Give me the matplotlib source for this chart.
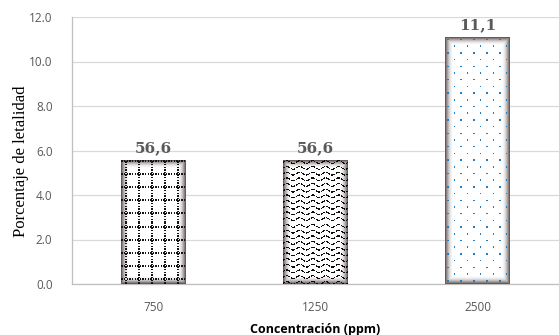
import numpy as np
import matplotlib.pyplot as plt

concentraciones = ['750', '1250', '2500']
letalidad = [5.55, 5.55, 11.1]
etiquetas = ['56,6', '56,6', '11,1']
patrones = ['grid', 'wave', 'dots']

BAR_W = 0.4


def bar_texture(w, h, kind):
    yy, xx = np.mgrid[0:h, 0:w].astype(float)
    img = np.ones((h, w, 3))
    # dark inner glow along the edges
    d = np.minimum(np.minimum(xx, w - 1 - xx), np.minimum(yy, h - 1 - yy))
    glow = np.clip(1 - d / 8.0, 0, 1) ** 2.0
    edge = np.array([0.40, 0.35, 0.35])
    img = img * (1 - glow[..., None]) + edge * glow[..., None]

    if kind == 'grid':
        hl = (np.mod(yy - 4, 13) < 1.2) & (np.mod(xx, 2.6) < 1.4)
        vl = (np.mod(xx - 4, 13) < 1.2) & (np.mod(yy, 2.6) < 1.4)
        m = hl | vl
        img[m] = [0.08, 0.08, 0.08]
    elif kind == 'wave':
        yc = yy - 1.4 * np.sin(2 * np.pi * xx / 13.0)
        m = (np.mod(yc, 5.7) < 1.3) & (np.mod(xx, 2.5) < 1.7)
        img[m] = [0.05, 0.05, 0.05]
    else:
        row = np.floor((yy - 2) / 6.7)
        off = np.where(np.mod(row, 2) == 0, 0.0, 6.5)
        m = (np.mod(yy - 2, 6.7) < 1.5) & (np.mod(xx - 2 - off, 13) < 1.5)
        img[m] = [0.12, 0.50, 0.78]
    return img


fig = plt.figure(figsize=(5.59, 3.35), dpi=100)
ax = fig.add_axes([72 / 559, 51 / 335, 487 / 559, 267 / 335])

ax.set_xlim(-0.5, 2.5)
ax.set_ylim(0, 12)
ax.set_yticks(np.arange(0, 12.1, 2))
ax.set_yticklabels(['%.1f' % v for v in np.arange(0, 12.1, 2)])
ax.set_xticks(range(len(concentraciones)))
ax.set_xticklabels(concentraciones)
ax.grid(axis='y', color='#d9d9d9', linewidth=0.9)
ax.set_axisbelow(True)
for s in ['top', 'right']:
    ax.spines[s].set_visible(False)
for s in ['left', 'bottom']:
    ax.spines[s].set_color('#bfbfbf')
    ax.spines[s].set_linewidth(0.9)
ax.tick_params(length=0, labelsize=8.5, labelcolor='#595959')
for lab in ax.get_xticklabels() + ax.get_yticklabels():
    lab.set_family('Open Sans')
ax.tick_params(axis='x', pad=12)
ax.tick_params(axis='y', pad=14)

# pixels per data unit, to size the bar textures
p0 = ax.transData.transform((0, 0))
p1 = ax.transData.transform((BAR_W, 1))
px_w = int(round(p1[0] - p0[0]))
px_unit = p1[1] - p0[1]

for i, (v, lab, kind) in enumerate(zip(letalidad, etiquetas, patrones)):
    h = int(round(v * px_unit))
    tex = bar_texture(px_w, h, kind)
    ax.imshow(tex, extent=(i - BAR_W / 2, i + BAR_W / 2, 0, v), origin='lower',
              aspect='auto', interpolation='nearest', zorder=3)
    ax.text(i, v + 0.22, lab, ha='center', va='bottom', fontsize=11,
            fontweight='bold', color='#595959', family='DejaVu Serif', zorder=4)

ax.set_xlim(-0.5, 2.5)
ax.set_ylim(0, 12)
ax.set_ylabel('Porcentaje de letalidad', family='Liberation Serif', fontsize=12,
              color='black')
ax.yaxis.set_label_coords(-0.088, 0.46)
ax.set_xlabel('Concentración (ppm)', family='Open Sans', fontweight='bold',
              fontsize=9, color='black')
ax.xaxis.set_label_coords(0.5, -0.145)

fig.savefig('out.png', dpi=100)
